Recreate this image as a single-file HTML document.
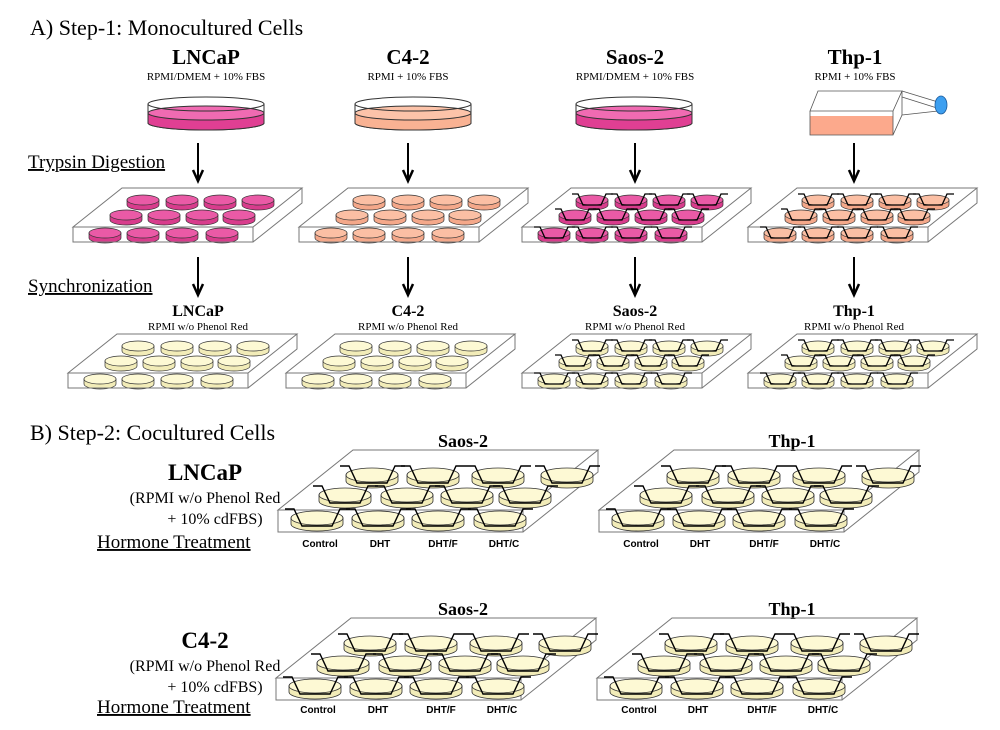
<!DOCTYPE html>
<html><head><meta charset="utf-8"><style>
body{margin:0;background:#fff}
svg{display:block}
.t{font-family:"Liberation Serif",serif}
.a{font-family:"Liberation Sans",sans-serif;font-weight:bold;font-size:10px}
</style></head><body>
<svg width="1000" height="730" viewBox="0 0 1000 730" xmlns="http://www.w3.org/2000/svg">
<defs>
<g id="dp"><path d="M-16,0 L-16,5 A16,5 0 0 0 16,5 L16,0 Z" fill="#d83c8c" stroke="#333" stroke-width="0.7"/><ellipse rx="16" ry="5" fill="#ea5aa6" stroke="#333" stroke-width="0.7"/></g>
<g id="dc"><path d="M-16,0 L-16,5 A16,5 0 0 0 16,5 L16,0 Z" fill="#f4a88a" stroke="#333" stroke-width="0.7"/><ellipse rx="16" ry="5" fill="#fbbfa4" stroke="#333" stroke-width="0.7"/></g>
<g id="dy"><path d="M-16,0 L-16,5 A16,5 0 0 0 16,5 L16,0 Z" fill="#f2ecb8" stroke="#333" stroke-width="0.7"/><ellipse rx="16" ry="5" fill="#fdf9d4" stroke="#333" stroke-width="0.7"/></g>
<path id="ins" d="M-20,-6 H-14 L-9,5 H9 L14,-6 H21" fill="none" stroke="#000" stroke-width="1.3"/>
<g id="frame" fill="none" stroke="#777" stroke-width="1">
<path d="M0,0 L49,-39 H229 L180,0 Z M0,0 V15 H180 V0 M180,15 L229,-24 V-39"/>
</g>
<g id="sp"><use href="#dp" x="70" y="-27"/><use href="#dp" x="109" y="-27"/><use href="#dp" x="147" y="-27"/><use href="#dp" x="185" y="-27"/><use href="#dp" x="53" y="-12"/><use href="#dp" x="91" y="-12"/><use href="#dp" x="129" y="-12"/><use href="#dp" x="166" y="-12"/><use href="#dp" x="32" y="6"/><use href="#dp" x="70" y="6"/><use href="#dp" x="109" y="6"/><use href="#dp" x="149" y="6"/><use href="#frame"/></g>
<g id="sc"><use href="#dc" x="70" y="-27"/><use href="#dc" x="109" y="-27"/><use href="#dc" x="147" y="-27"/><use href="#dc" x="185" y="-27"/><use href="#dc" x="53" y="-12"/><use href="#dc" x="91" y="-12"/><use href="#dc" x="129" y="-12"/><use href="#dc" x="166" y="-12"/><use href="#dc" x="32" y="6"/><use href="#dc" x="70" y="6"/><use href="#dc" x="109" y="6"/><use href="#dc" x="149" y="6"/><use href="#frame"/></g>
<g id="sy"><use href="#dy" x="70" y="-27"/><use href="#dy" x="109" y="-27"/><use href="#dy" x="147" y="-27"/><use href="#dy" x="185" y="-27"/><use href="#dy" x="53" y="-12"/><use href="#dy" x="91" y="-12"/><use href="#dy" x="129" y="-12"/><use href="#dy" x="166" y="-12"/><use href="#dy" x="32" y="6"/><use href="#dy" x="70" y="6"/><use href="#dy" x="109" y="6"/><use href="#dy" x="149" y="6"/><use href="#frame"/></g>
<g id="insSet"><use href="#ins" x="70" y="-27"/><use href="#ins" x="109" y="-27"/><use href="#ins" x="147" y="-27"/><use href="#ins" x="185" y="-27"/><use href="#ins" x="53" y="-12"/><use href="#ins" x="91" y="-12"/><use href="#ins" x="129" y="-12"/><use href="#ins" x="166" y="-12"/><use href="#ins" x="32" y="6"/><use href="#ins" x="70" y="6"/><use href="#ins" x="109" y="6"/><use href="#ins" x="149" y="6"/></g>
<g id="bd"><path d="M-26,0 L-26,6 A26,7 0 0 0 26,6 L26,0 Z" fill="#f2ecb8" stroke="#333" stroke-width="0.8"/><ellipse rx="26" ry="7" fill="#fdf9d4" stroke="#333" stroke-width="0.8"/><path d="M-32,-9 H-23 L-15,8 H15 L23,-9 H33" fill="none" stroke="#000" stroke-width="1.4"/></g>
<g id="big">
<g fill="none" stroke="#777" stroke-width="1"><path d="M0,0 L75,-60 H320 L245,0 Z M0,0 V22 H245 V0 M245,22 L320,-38 V-60"/></g>
<use href="#bd" x="94" y="-35"/><use href="#bd" x="155" y="-35"/><use href="#bd" x="220" y="-35"/><use href="#bd" x="289" y="-35"/>
<use href="#bd" x="67" y="-15"/><use href="#bd" x="129" y="-15"/><use href="#bd" x="189" y="-15"/><use href="#bd" x="247" y="-15"/>
<use href="#bd" x="39" y="8"/><use href="#bd" x="100" y="8"/><use href="#bd" x="160" y="8"/><use href="#bd" x="222" y="8"/>
</g>
<g id="arr"><line x1="0" y1="0" x2="0" y2="37" stroke="#000" stroke-width="2"/><path d="M-5,27 L0,38 L5,27" fill="none" stroke="#000" stroke-width="2.5"/></g>
</defs>

<text class="t" x="30" y="35" font-size="22">A) Step-1: Monocultured Cells</text>

<g class="t" text-anchor="middle">
<text x="206" y="64" font-size="21" font-weight="bold">LNCaP</text>
<text x="206" y="80" font-size="11">RPMI/DMEM + 10% FBS</text>
<text x="408" y="64" font-size="21" font-weight="bold">C4-2</text>
<text x="408" y="80" font-size="11">RPMI + 10% FBS</text>
<text x="635" y="64" font-size="21" font-weight="bold">Saos-2</text>
<text x="635" y="80" font-size="11">RPMI/DMEM + 10% FBS</text>
<text x="855" y="64" font-size="21" font-weight="bold">Thp-1</text>
<text x="855" y="80" font-size="11">RPMI + 10% FBS</text>
</g>

<g stroke="#333" stroke-width="1">
<g transform="translate(206,0)"><path d="M-58,104 V123 A58,7 0 0 0 58,123 V104" fill="#fff"/><path d="M-58,113 V123 A58,7 0 0 0 58,123 V113 Z" fill="#e03f93"/><ellipse cy="113" rx="58" ry="7" fill="#f06bb2"/><ellipse cy="104" rx="58" ry="7" fill="none"/></g>
<g transform="translate(413,0)"><path d="M-58,104 V123 A58,7 0 0 0 58,123 V104" fill="#fff"/><path d="M-58,113 V123 A58,7 0 0 0 58,123 V113 Z" fill="#f9b293"/><ellipse cy="113" rx="58" ry="7" fill="#fcc3a9"/><ellipse cy="104" rx="58" ry="7" fill="none"/></g>
<g transform="translate(634,0)"><path d="M-58,104 V123 A58,7 0 0 0 58,123 V104" fill="#fff"/><path d="M-58,113 V123 A58,7 0 0 0 58,123 V113 Z" fill="#e03f93"/><ellipse cy="113" rx="58" ry="7" fill="#f06bb2"/><ellipse cy="104" rx="58" ry="7" fill="none"/></g>
</g>
<g stroke="#555" stroke-width="0.8" fill="none">
<rect x="810" y="116" width="83" height="19" fill="#fca98c" stroke="none"/>
<path d="M810,111 L818,91 H902 L893,111 Z M810,111 V135 H893 V111 M893,135 L902,115 V91"/>
<path d="M902,91 L938,102 M902,97 L937,108 M902,115 L938,111"/>
<ellipse cx="941" cy="105" rx="6" ry="9" fill="#3d9ff0" stroke="#1b5a9a"/>
</g>

<text class="t" x="28" y="168" font-size="19" text-decoration="underline">Trypsin Digestion</text>
<text class="t" x="28" y="292" font-size="19" text-decoration="underline">Synchronization</text>

<use href="#arr" x="198" y="143"/><use href="#arr" x="408" y="143"/><use href="#arr" x="635" y="143"/><use href="#arr" x="854" y="143"/>
<use href="#arr" x="198" y="257"/><use href="#arr" x="408" y="257"/><use href="#arr" x="635" y="257"/><use href="#arr" x="854" y="257"/>

<use href="#sp" x="73" y="227"/>
<use href="#sc" x="299" y="227"/>
<use href="#sp" x="522" y="227"/><use href="#insSet" x="522" y="227"/>
<use href="#sc" x="748" y="227"/><use href="#insSet" x="748" y="227"/>

<g class="t" text-anchor="middle">
<text x="198" y="316" font-size="16" font-weight="bold">LNCaP</text>
<text x="198" y="330" font-size="11">RPMI w/o Phenol Red</text>
<text x="408" y="316" font-size="16" font-weight="bold">C4-2</text>
<text x="408" y="330" font-size="11">RPMI w/o Phenol Red</text>
<text x="635" y="316" font-size="16" font-weight="bold">Saos-2</text>
<text x="635" y="330" font-size="11">RPMI w/o Phenol Red</text>
<text x="854" y="316" font-size="16" font-weight="bold">Thp-1</text>
<text x="854" y="330" font-size="11">RPMI w/o Phenol Red</text>
</g>

<use href="#sy" x="68" y="373"/>
<use href="#sy" x="286" y="373"/>
<use href="#sy" x="522" y="373"/><use href="#insSet" x="522" y="373"/>
<use href="#sy" x="748" y="373"/><use href="#insSet" x="748" y="373"/>

<text class="t" x="30" y="440" font-size="22">B) Step-2: Cocultured Cells</text>

<g class="t" text-anchor="middle">
<text x="463" y="447" font-size="18" font-weight="bold">Saos-2</text>
<text x="792" y="447" font-size="18" font-weight="bold">Thp-1</text>
<text x="205" y="480" font-size="23" font-weight="bold">LNCaP</text>
<text x="205" y="503" font-size="16">(RPMI w/o Phenol Red</text>
<text x="215" y="524" font-size="16">+ 10% cdFBS)</text>
<text x="463" y="615" font-size="18" font-weight="bold">Saos-2</text>
<text x="792" y="615" font-size="18" font-weight="bold">Thp-1</text>
<text x="205" y="648" font-size="23" font-weight="bold">C4-2</text>
<text x="205" y="671" font-size="16">(RPMI w/o Phenol Red</text>
<text x="215" y="692" font-size="16">+ 10% cdFBS)</text>
</g>
<text class="t" x="97" y="548" font-size="19" text-decoration="underline">Hormone Treatment</text>
<text class="t" x="97" y="713" font-size="19" text-decoration="underline">Hormone Treatment</text>

<use href="#big" x="278" y="510"/>
<use href="#big" x="599" y="510"/>
<use href="#big" x="276" y="678"/>
<use href="#big" x="597" y="678"/>

<g class="a" text-anchor="middle">
<text x="320" y="547">Control</text><text x="380" y="547">DHT</text><text x="443" y="547">DHT/F</text><text x="504" y="547">DHT/C</text>
<text x="641" y="547">Control</text><text x="700" y="547">DHT</text><text x="764" y="547">DHT/F</text><text x="825" y="547">DHT/C</text>
<text x="318" y="713">Control</text><text x="378" y="713">DHT</text><text x="441" y="713">DHT/F</text><text x="502" y="713">DHT/C</text>
<text x="639" y="713">Control</text><text x="698" y="713">DHT</text><text x="762" y="713">DHT/F</text><text x="823" y="713">DHT/C</text>
</g>
</svg>
</body></html>
